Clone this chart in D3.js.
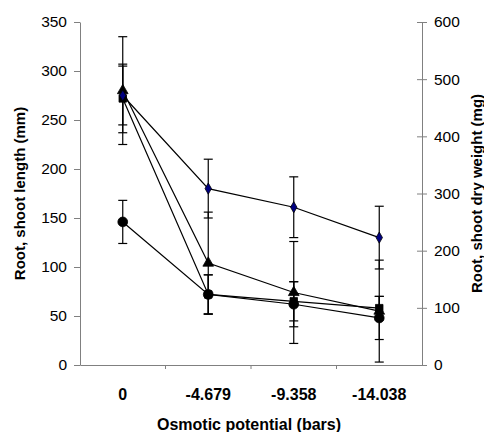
<!DOCTYPE html>
<html><head><meta charset="utf-8">
<script src="https://cdn.jsdelivr.net/npm/d3@7"></script>
<style>body{margin:0;background:#fff}svg{display:block}</style>
</head><body>
<svg id="c" width="484" height="432"></svg>
<script>
const categories = ["0", "-4.679", "-9.358", "-14.038"];
const leftTicks = [0, 50, 100, 150, 200, 250, 300, 350];
const rightTicks = [0, 100, 200, 300, 400, 500, 600];
const diamondVals = [275, 180, 161, 130];
const diamondErr  = [30, 30, 31, 32];
const triangleVals = [280, 104, 74, 55];
const triangleErr  = [55, 52, 52, 52];
const squareVals = [272, 72, 65, 58];
const squareErr  = [35, 20, 20, 12];
const circleVals = [146, 72, 62, 48];
const circleErr  = [22, 20, 23, 22];

const series = [
  {vals: circleVals, err: circleErr, sym: d3.symbolCircle, size: 75, fill: "#000"},
  {vals: squareVals, err: squareErr, sym: d3.symbolSquare, size: 56, fill: "#000"},
  {vals: triangleVals, err: triangleErr, sym: d3.symbolTriangle, size: 50, fill: "#000"},
  {vals: diamondVals, err: diamondErr, sym: d3.symbolDiamond, size: 36, fill: "#000080"}
];

const FONT = "Liberation Sans, Arial, sans-serif";
const svg = d3.select("#c");
const L = 80, R = 422, T = 22, B = 365;
const x = d3.scaleBand().domain(categories).range([L, R]);
const y = d3.scaleLinear().domain([0, 350]).range([B, T]);
const y2 = d3.scaleLinear().domain([0, 600]).range([B, T]);
const axisColor = "#808080";

// x axis
const gx = svg.append("g").attr("transform", `translate(0,${B})`)
  .call(d3.axisBottom(x).tickSize(0).tickFormat(""));
gx.select(".domain").attr("stroke", axisColor);
categories.slice(1).forEach(c => {
  svg.append("line").attr("x1", x(c)).attr("x2", x(c)).attr("y1", B).attr("y2", B + 4)
    .attr("stroke", axisColor);
});
categories.forEach(c => {
  svg.append("text").attr("x", x(c) + x.bandwidth() / 2).attr("y", 400)
    .attr("text-anchor", "middle").attr("font-family", FONT)
    .attr("font-size", 16).attr("font-weight", "bold").text(c);
});

// left axis
const gl = svg.append("g").attr("transform", `translate(${L},0)`)
  .call(d3.axisLeft(y).tickValues(leftTicks).tickSize(6).tickSizeOuter(0).tickPadding(7));
gl.select(".domain").attr("stroke", axisColor);
gl.selectAll(".tick line").attr("stroke", axisColor);
gl.selectAll(".tick text").attr("font-family", FONT).attr("font-size", 15.5).attr("fill", "#000");

// right axis
const gr = svg.append("g").attr("transform", `translate(${R},0)`)
  .call(d3.axisRight(y2).tickValues(rightTicks).tickSize(5).tickSizeOuter(0).tickPadding(7));
gr.select(".domain").attr("stroke", axisColor);
gr.selectAll(".tick line").attr("stroke", axisColor).attr("x1", -5);
gr.selectAll(".tick text").attr("font-family", FONT).attr("font-size", 15.5).attr("fill", "#000");

// titles
svg.append("text").attr("transform", `translate(25,${(T + B) / 2}) rotate(-90)`)
  .attr("text-anchor", "middle").attr("font-family", FONT)
  .attr("font-size", 15).attr("font-weight", "bold").text("Root, shoot length (mm)");
svg.append("text").attr("transform", `translate(482,${(T + B) / 2}) rotate(-90)`)
  .attr("text-anchor", "middle").attr("font-family", FONT)
  .attr("font-size", 15).attr("font-weight", "bold").text("Root, shoot dry weight (mg)");
svg.append("text").attr("x", (L + R) / 2 - 2).attr("y", 430)
  .attr("text-anchor", "middle").attr("font-family", FONT)
  .attr("font-size", 16).attr("font-weight", "bold").text("Osmotic potential (bars)");

const cx = c => x(c) + x.bandwidth() / 2;
const line = d3.line().x((d, i) => cx(categories[i])).y(d => y(d));

// error bars
series.forEach(s => {
  s.vals.forEach((v, i) => {
    const px = cx(categories[i]);
    const lo = Math.max(0, v - s.err[i]), hi = v + s.err[i];
    const g = svg.append("g").attr("stroke", "#000").attr("stroke-width", 1.2);
    g.append("line").attr("x1", px).attr("x2", px).attr("y1", y(lo)).attr("y2", y(hi));
    g.append("line").attr("x1", px - 4.5).attr("x2", px + 4.5).attr("y1", y(lo)).attr("y2", y(lo));
    g.append("line").attr("x1", px - 4.5).attr("x2", px + 4.5).attr("y1", y(hi)).attr("y2", y(hi));
  });
});
// lines
series.forEach(s => {
  svg.append("path").attr("d", line(s.vals)).attr("fill", "none").attr("stroke", "#000").attr("stroke-width", 1.2);
});
// markers
series.forEach(s => {
  s.vals.forEach((v, i) => {
    svg.append("path").attr("d", d3.symbol().type(s.sym).size(s.size)())
      .attr("transform", `translate(${cx(categories[i])},${y(v)})`)
      .attr("fill", s.fill).attr("stroke", "#000").attr("stroke-width", 0.8);
  });
});
</script>
</body></html>
